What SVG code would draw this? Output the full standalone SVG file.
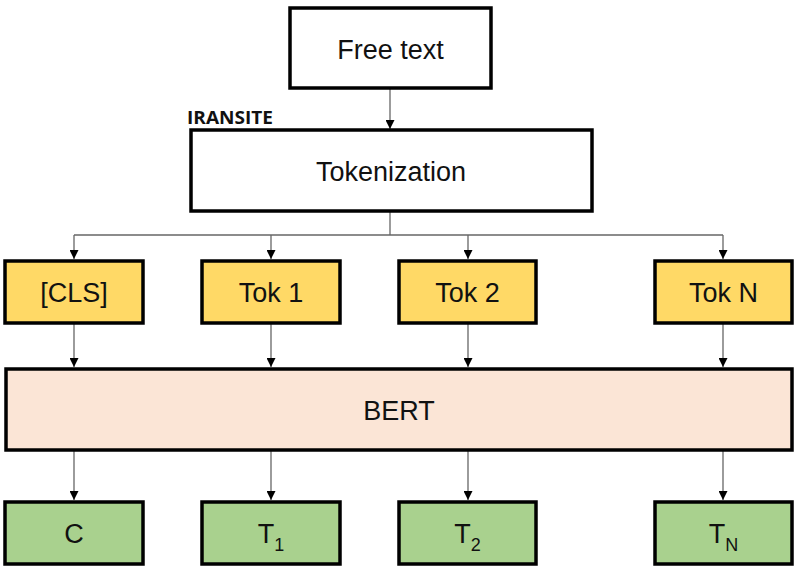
<svg xmlns="http://www.w3.org/2000/svg" width="800" height="569" viewBox="0 0 800 569">
<style>
.box{stroke:#000;stroke-width:3.5}
.lbl{font-family:"Liberation Sans",Arial,sans-serif;font-size:27px;fill:#111;text-anchor:middle}
.sub{font-size:18px}
.conn{stroke:#666;stroke-width:1.3;fill:none}
</style>
<defs>
<marker id="ah" viewBox="0 0 10 10" refX="10" refY="5" markerWidth="9" markerHeight="9" markerUnits="userSpaceOnUse" orient="auto">
<path d="M0,0 L10,5 L0,10 z" fill="#000"/>
</marker>
</defs>
<rect width="800" height="569" fill="#fff"/>
<g id="connectors">
<line class="conn" x1="390" y1="88" x2="390" y2="129" marker-end="url(#ah)"/>
<polyline class="conn" points="390,212 390,235"/>
<polyline class="conn" points="74,235 723,235"/>
<line class="conn" x1="74" y1="235" x2="74" y2="259" marker-end="url(#ah)"/>
<line class="conn" x1="271" y1="235" x2="271" y2="259" marker-end="url(#ah)"/>
<line class="conn" x1="468" y1="235" x2="468" y2="259" marker-end="url(#ah)"/>
<line class="conn" x1="723" y1="235" x2="723" y2="259" marker-end="url(#ah)"/>
<line class="conn" x1="74" y1="323" x2="74" y2="367" marker-end="url(#ah)"/>
<line class="conn" x1="271" y1="323" x2="271" y2="367" marker-end="url(#ah)"/>
<line class="conn" x1="468" y1="323" x2="468" y2="367" marker-end="url(#ah)"/>
<line class="conn" x1="723" y1="323" x2="723" y2="367" marker-end="url(#ah)"/>
<line class="conn" x1="74" y1="451" x2="74" y2="500" marker-end="url(#ah)"/>
<line class="conn" x1="271" y1="451" x2="271" y2="500" marker-end="url(#ah)"/>
<line class="conn" x1="468" y1="451" x2="468" y2="500" marker-end="url(#ah)"/>
<line class="conn" x1="723" y1="451" x2="723" y2="500" marker-end="url(#ah)"/>
</g>
<g id="free-text">
<rect class="box" x="290" y="8" width="201" height="80" fill="#fff"/>
<text class="lbl" x="390.5" y="59">Free text</text>
</g>
<text x="187" y="124" font-family="'Open Sans','Liberation Sans',sans-serif" font-weight="bold" font-size="17" textLength="86" lengthAdjust="spacingAndGlyphs" fill="#111">IRANSITE</text>
<g id="tokenization">
<rect class="box" x="191" y="130" width="401" height="81" fill="#fff"/>
<text class="lbl" x="391" y="181">Tokenization</text>
</g>
<g id="cls">
<rect class="box" x="5" y="261" width="138" height="62" fill="#FFD966"/>
<text class="lbl" x="74" y="302">[CLS]</text>
</g>
<g id="tok1">
<rect class="box" x="202" y="261" width="138" height="62" fill="#FFD966"/>
<text class="lbl" x="271" y="302">Tok 1</text>
</g>
<g id="tok2">
<rect class="box" x="399" y="261" width="137" height="62" fill="#FFD966"/>
<text class="lbl" x="467.5" y="302">Tok 2</text>
</g>
<g id="tokN">
<rect class="box" x="655" y="261" width="137" height="62" fill="#FFD966"/>
<text class="lbl" x="723.5" y="302">Tok N</text>
</g>
<g id="bert">
<rect class="box" x="6" y="369" width="786" height="81" fill="#FBE5D6"/>
<text class="lbl" x="399" y="420">BERT</text>
</g>
<g id="c">
<rect class="box" x="5" y="502" width="138" height="62" fill="#A9D18E"/>
<text class="lbl" x="74" y="543">C</text>
</g>
<g id="t1">
<rect class="box" x="202" y="502" width="138" height="62" fill="#A9D18E"/>
<text class="lbl" x="271" y="543">T<tspan class="sub" dy="8">1</tspan></text>
</g>
<g id="t2">
<rect class="box" x="399" y="502" width="137" height="62" fill="#A9D18E"/>
<text class="lbl" x="467.5" y="543">T<tspan class="sub" dy="8">2</tspan></text>
</g>
<g id="tN">
<rect class="box" x="655" y="502" width="137" height="62" fill="#A9D18E"/>
<text class="lbl" x="723.5" y="543">T<tspan class="sub" dy="8">N</tspan></text>
</g>
</svg>
